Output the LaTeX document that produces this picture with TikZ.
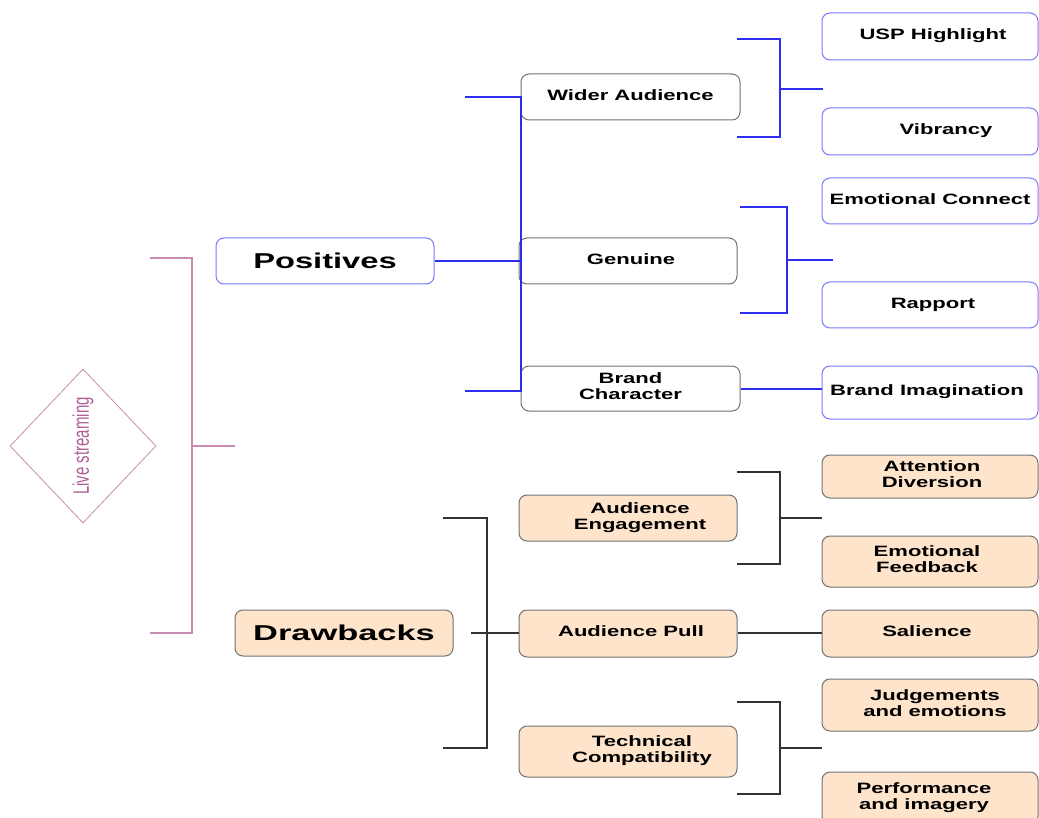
\documentclass[tikz,border=0pt]{standalone}
\usepackage{fontspec}
\setmainfont{Liberation Sans}
\usetikzlibrary{shapes.geometric}
\definecolor{pblue}{RGB}{45,45,235}
\definecolor{bborder}{RGB}{120,120,255}
\definecolor{gborder}{RGB}{115,115,115}
\definecolor{peach}{RGB}{253,228,203}
\definecolor{mauve}{RGB}{200,140,180}
\definecolor{mauvetext}{RGB}{176,96,150}
\definecolor{dline}{RGB}{50,50,50}
\newcommand{\st}[1]{\scalebox{1.47}[1]{\begin{tabular}{@{}c@{}}#1\end{tabular}}}
\newcommand{\bt}[2][1.52]{\scalebox{#1}[1]{#2}}
\tikzset{
 box/.style={rounded corners=8pt, minimum width=218pt, minimum height=46pt, inner sep=0pt, font=\fontsize{15}{16}\selectfont\bfseries},
 wbox/.style={box, draw=gborder, fill=white, line width=1pt},
 bbox/.style={box, draw=bborder, fill=white, line width=1pt},
 pbox/.style={box, draw=gborder, fill=peach, line width=1pt},
 big/.style={font=\fontsize{21.5}{24}\selectfont\bfseries},
 rbox/.style={minimum width=216pt},
 bl/.style={draw=pblue, line width=1.5pt},
 dl/.style={draw=dline, line width=1.5pt},
 ml/.style={draw=mauve, line width=1.4pt},
}
\begin{document}
\begin{tikzpicture}[x=1pt,y=-1pt]
\useasboundingbox (0,0) rectangle (1039,818);
\fill[white] (0,0) rectangle (1039,818);

% root diamond
\node[diamond, draw=mauve, line width=0.8pt, minimum width=146pt, minimum height=154pt, inner sep=0pt,
      font=\fontsize{15}{16}\selectfont, text=mauvetext] (live) at (83,446)
  {\rotatebox{90}{\scalebox{1}[1.5]{Live streaming}}};

% purple bracket
\coordinate (p1) at (150,258); \coordinate (p2) at (192,258);
\coordinate (p3) at (192,633); \coordinate (p4) at (150,633);
\coordinate (pm) at (192,446); \coordinate (pe) at (235,446);
\draw[ml] (p1) -- (p2) -- (p3) -- (p4);
\draw[ml] (pm) -- (pe);

% level 1
\node[bbox, big] (pos) at (325,261) {\bt{Positives}};
\node[pbox, big] (dra) at (344,633) {\bt[1.6]{Drawbacks}};

% level 2 positives
\node[wbox, minimum width=219pt] (wid) at (630.5,97) {\st{Wider Audience}};
\node[wbox] (gen) at (628,261) {\hspace*{6pt}\st{Genuine}};
\node[wbox, minimum width=219pt, minimum height=45pt] (bch) at (630.5,388.5) {\st{Brand\\Character}};

% level 3 positives
\node[bbox, rbox, minimum height=47pt] (usp) at (930,36.5) {\hspace*{6pt}\st{USP Highlight}};
\node[bbox, rbox, minimum height=47pt] (vib) at (930,131.5) {\hspace*{32pt}\st{Vibrancy}};
\node[bbox, rbox] (emc) at (930,201) {\st{Emotional Connect}};
\node[bbox, rbox] (rap) at (930,305) {\hspace*{6pt}\st{Rapport}};
\node[bbox, rbox, minimum height=53pt] (bim) at (930,392.5) {\st{Brand Imagination}\hspace*{6pt}};

% level 2 drawbacks
\node[pbox] (aen) at (628,518) {\hspace*{24pt}\st{Audience\\Engagement}};
\node[pbox, minimum height=47pt] (apu) at (628,633.5) {\hspace*{6pt}\st{Audience Pull}};
\node[pbox, minimum height=51pt] (tec) at (628,751.5) {\hspace*{28pt}\st{Technical\\Compatibility}};

% level 3 drawbacks
\node[pbox, rbox, minimum height=43pt] (att) at (930,476.5) {\hspace*{4pt}\st{Attention\\Diversion}};
\node[pbox, rbox, minimum height=51pt] (emf) at (930,561.5) {\st{Emotional\\Feedback}\hspace*{6pt}};
\node[pbox, rbox, minimum height=47pt] (sal) at (930,633.5) {\st{Salience}\hspace*{6pt}};
\node[pbox, rbox, minimum height=52pt] (jud) at (930,705) {\hspace*{10pt}\st{Judgements\\and emotions}};
\node[pbox, rbox, minimum height=52pt] (per) at (930,798) {\st{Performance\\and imagery}\hspace*{12pt}};

% blue connectors, positives
\coordinate (b0) at (521,261);
\coordinate (b1) at (465,97); \coordinate (b2) at (521,97);
\coordinate (b3) at (521,391); \coordinate (b4) at (465,391);
\draw[bl] (pos.east) -- (b0);
\draw[bl] (b1) -- (b2) -- (b3) -- (b4);

\coordinate (u1) at (737,39); \coordinate (u2) at (780,39);
\coordinate (u3) at (780,137); \coordinate (u4) at (737,137);
\coordinate (um) at (780,89); \coordinate (ue) at (823,89);
\draw[bl] (u1) -- (u2) -- (u3) -- (u4);
\draw[bl] (um) -- (ue);

\coordinate (g1) at (740,207); \coordinate (g2) at (787,207);
\coordinate (g3) at (787,313); \coordinate (g4) at (740,313);
\coordinate (gm) at (787,260); \coordinate (ge) at (833,260);
\draw[bl] (g1) -- (g2) -- (g3) -- (g4);
\draw[bl] (gm) -- (ge);

\draw[bl] (bch.east |- 0,389) -- (bim.west |- 0,389);

% dark connectors, drawbacks
\coordinate (d1) at (443,518); \coordinate (d2) at (487,518);
\coordinate (d3) at (487,748); \coordinate (d4) at (443,748);
\coordinate (ds) at (471,633);
\draw[dl] (d1) -- (d2) -- (d3) -- (d4);
\draw[dl] (ds) -- (apu.west |- ds);

\coordinate (e1) at (737,472); \coordinate (e2) at (780,472);
\coordinate (e3) at (780,564); \coordinate (e4) at (737,564);
\coordinate (em) at (780,518); \coordinate (ee) at (822,518);
\draw[dl] (e1) -- (e2) -- (e3) -- (e4);
\draw[dl] (em) -- (ee);

\draw[dl] (apu.east |- 0,633) -- (sal.west |- 0,633);

\coordinate (t1) at (737,702); \coordinate (t2) at (780,702);
\coordinate (t3) at (780,794); \coordinate (t4) at (737,794);
\coordinate (tm) at (780,748); \coordinate (te) at (822,748);
\draw[dl] (t1) -- (t2) -- (t3) -- (t4);
\draw[dl] (tm) -- (te);
\end{tikzpicture}
\end{document}
